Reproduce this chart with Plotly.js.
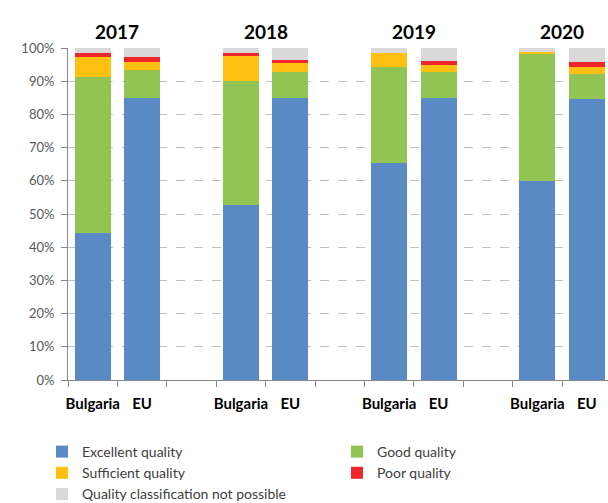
<!DOCTYPE html>
<html>
<head>
<meta charset="utf-8">
<script src="https://cdn.plot.ly/plotly-3.0.1.min.js"></script>
<style>html,body{margin:0;padding:0;background:#fff;}#chart{width:608px;height:503px;}</style>
</head>
<body>
<div id="chart"></div>
<script>
const years = ["2017", "2018", "2019", "2020"];
const regions = ["Bulgaria", "EU"];
// order: Bulgaria 2017, EU 2017, Bulgaria 2018, EU 2018, ...
const excellent   = [44.2, 85.0, 52.6, 84.9, 65.3, 84.9, 59.8, 84.7];
const good        = [47.0,  8.4, 37.4,  8.0, 29.1,  7.8, 38.4,  7.5];
const sufficient  = [ 6.2,  2.3,  7.5,  2.5,  4.2,  2.3,  0.7,  2.0];
const poor        = [ 1.0,  1.5,  1.1,  1.1,  0.0,  1.2,  0.0,  1.5];
const notPossible = [ 1.6,  2.8,  1.4,  3.5,  1.4,  3.8,  1.1,  4.3];
const seriesNames = ["Excellent quality", "Good quality", "Sufficient quality", "Poor quality", "Quality classification not possible"];
const colors = ["#5A8AC6", "#92C453", "#FFC012", "#F0272A", "#D9D9D9"];
const legendOf = ["legend", "legend2", "legend", "legend2", "legend"];

const xs = [], labels = [];
years.forEach((y, g) => regions.forEach((r, j) => { xs.push(g * 3 + j); labels.push(r); }));
const boundaries = [];
for (let i = 0; i <= 11; i++) boundaries.push(i - 0.5);

const allSeries = [excellent, good, sufficient, poor, notPossible];
const traces = allSeries.map((vals, i) => ({
  type: "bar", x: xs, y: vals, name: seriesNames[i], legend: legendOf[i],
  marker: {color: colors[i]}, width: 0.73, hoverinfo: "none"
}));

const annotations = years.map((y, g) => ({
  text: "<b>" + y + "</b>", x: g * 3 + 0.5, xref: "x", y: 1.05, yref: "paper",
  yanchor: "middle", xanchor: "center", showarrow: false,
  font: {family: "Lato, 'Open Sans', sans-serif", size: 19, color: "#000"}
}));

const legendBase = {
  orientation: "v", traceorder: "normal", yref: "container", yanchor: "top",
  xref: "container", xanchor: "left", y: 1 - 436 / 503,
  font: {size: 14, color: "#404040"}, itemwidth: 30, tracegroupgap: 0,
  bgcolor: "rgba(0,0,0,0)"
};

const layout = {
  width: 608, height: 503,
  margin: {l: 68, r: 0, t: 48, b: 123, autoexpand: false},
  paper_bgcolor: "#fff", plot_bgcolor: "#fff",
  barmode: "stack",
  showlegend: true,
  font: {family: "Lato, 'Open Sans', sans-serif"},
  xaxis: {
    range: [-0.5, 10.43], tickmode: "array", tickvals: xs, ticktext: labels,
    ticks: "", showgrid: false, zeroline: false, automargin: false,
    showline: true, linecolor: "#868686", linewidth: 1,
    tickfont: {size: 15, color: "#000", weight: "bold"},
    ticklabelstandoff: 10,
    minor: {tickmode: "array", tickvals: boundaries, ticks: "outside", ticklen: 6, tickcolor: "#868686", showgrid: false}
  },
  yaxis: {
    range: [0, 100], tickmode: "array", tickvals: [0,10,20,30,40,50,60,70,80,90,100],
    ticktext: ["0%","10%","20%","30%","40%","50%","60%","70%","80%","90%","100%"],
    showgrid: true, gridcolor: "#C0C0C0", griddash: "dash", gridwidth: 1,
    zeroline: false, showline: true, linecolor: "#868686", linewidth: 1, automargin: false,
    ticks: "outside", ticklen: 6, tickcolor: "#868686",
    tickfont: {size: 13, color: "#595959"}, ticklabelstandoff: 4
  },
  legend: Object.assign({}, legendBase, {x: 42 / 608}),
  legend2: Object.assign({}, legendBase, {x: 337 / 608}),
  annotations: annotations
};

Plotly.newPlot("chart", traces, layout, {displayModeBar: false, staticPlot: true});
</script>
</body>
</html>
